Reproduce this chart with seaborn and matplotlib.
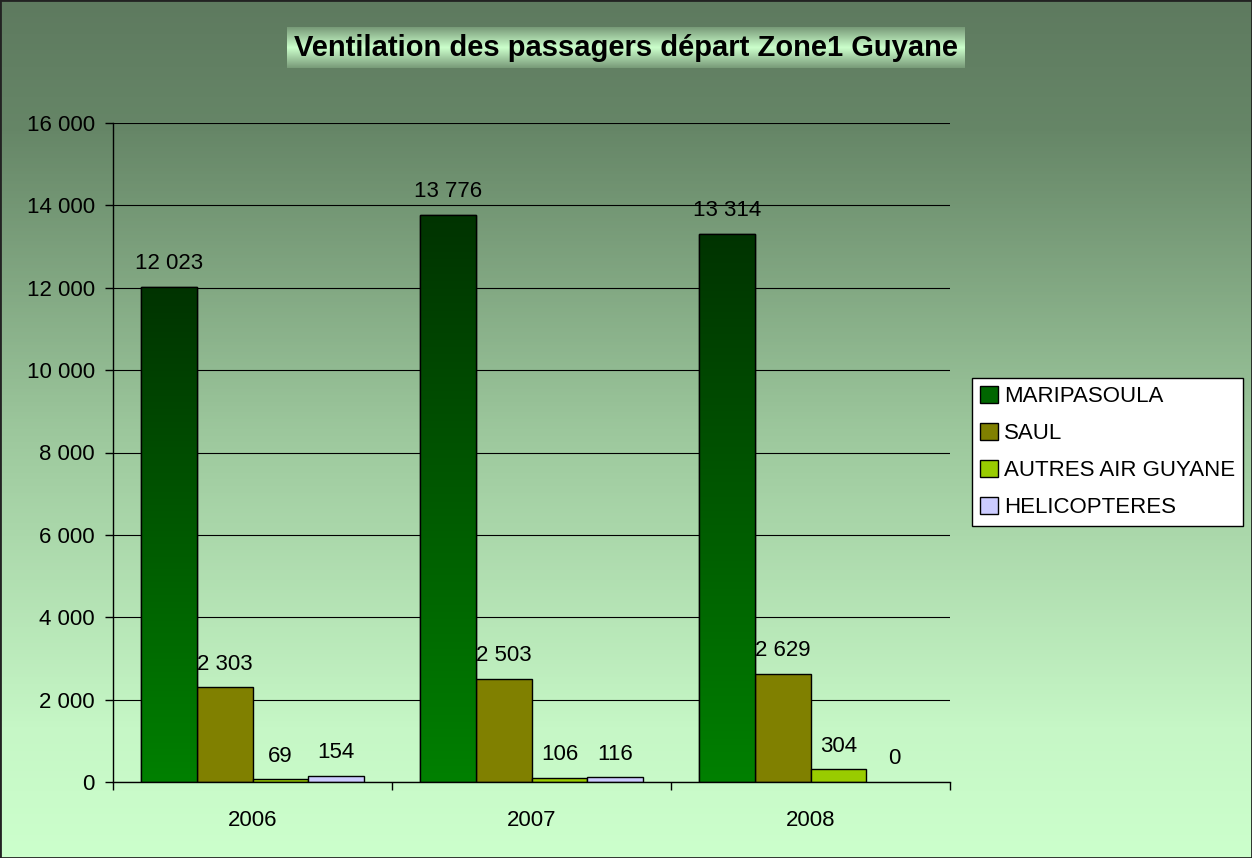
import numpy as np
import pandas as pd
import matplotlib.pyplot as plt
import seaborn as sns
from matplotlib.colors import LinearSegmentedColormap
from matplotlib.patches import Rectangle
from matplotlib.ticker import FuncFormatter, FixedLocator

# Passagers au départ de la Zone 1, par année et par destination
years = ["2006", "2007", "2008"]
destinations = ["MARIPASOULA", "SAUL", "AUTRES AIR GUYANE", "HELICOPTERES"]
maripasoula = [12023, 13776, 13314]
saul = [2303, 2503, 2629]
autres = [69, 106, 304]
helicopteres = [154, 116, 0]
colors = ["#006600", "#808000", "#99cc00", "#ccccff"]

df = pd.DataFrame({
    "annee": years * 4,
    "destination": np.repeat(destinations, len(years)),
    "passagers": maripasoula + saul + autres + helicopteres,
})


def fmt_fr(v):
    return f"{v:,.0f}".replace(",", " ")


sns.set_theme(style="white")
plt.rcParams["font.family"] = ["Liberation Sans", "DejaVu Sans"]
plt.rcParams["text.color"] = "black"
plt.rcParams["xtick.color"] = "black"
plt.rcParams["ytick.color"] = "black"

W, H = 1252, 858
fig = plt.figure(figsize=(W / 100, H / 100), dpi=100)

# fond en dégradé vertical
bg = fig.add_axes([0, 0, 1, 1], zorder=-10)
bg_cmap = LinearSegmentedColormap.from_list(
    "bg", [(0, "#5e7a5f"), (0.15, "#668667"), (0.5, "#9cc79c"), (0.85, "#c6f7c6"), (1, "#ccffcc")])
bg.imshow(np.linspace(0, 1, 256).reshape(-1, 1), cmap=bg_cmap, aspect="auto", extent=[0, 1, 0, 1])
bg.add_patch(Rectangle((0, 0), 1, 1, fill=False, edgecolor="#222222", lw=2, transform=bg.transAxes))
bg.set_axis_off()

# cadre du titre
tb = fig.add_axes([287 / W, 1 - 68 / H, 678 / W, 41 / H], zorder=-5)
tb_cmap = LinearSegmentedColormap.from_list("tb", ["#789a78", "#ccffcc", "#789a78"])
tb.imshow(np.linspace(0, 1, 256).reshape(-1, 1), cmap=tb_cmap, aspect="auto", extent=[0, 1, 0, 1])
tb.set_axis_off()
fig.text(626 / W, 1 - 48 / H, "Ventilation des passagers départ Zone1 Guyane",
         ha="center", va="center", fontsize=21, fontweight="bold", color="black")

ax = fig.add_axes([113 / W, 1 - 782 / H, (950 - 113) / W, (782 - 123) / H])
ax.patch.set_alpha(0)

sns.barplot(data=df, x="annee", y="passagers", hue="destination", palette=colors,
            width=0.8, saturation=1, edgecolor="black", linewidth=1, ax=ax)

# dégradé sur les barres MARIPASOULA
bar_cmap = LinearSegmentedColormap.from_list("bar", ["#003300", "#008000"])
for patch in ax.containers[0]:
    x0, w, h = patch.get_x(), patch.get_width(), patch.get_height()
    im = ax.imshow(np.linspace(0, 1, 256).reshape(-1, 1), cmap=bar_cmap, aspect="auto",
                   extent=[x0, x0 + w, 0, h], zorder=patch.get_zorder() + 0.1)
    im.set_clip_path(patch)
    ax.add_patch(Rectangle((x0, 0), w, h, fill=False, edgecolor="black", lw=1,
                           zorder=patch.get_zorder() + 0.2))

for cont in ax.containers:
    for b in cont:
        if b.get_height() == 0:
            b.set_linewidth(0)
    ax.bar_label(cont, labels=[fmt_fr(b.get_height()) for b in cont], padding=9,
                 fontsize=16, color="black")

ax.set_xlim(-0.5, 2.5)
ax.set_ylim(0, 16000)
ax.yaxis.set_major_locator(FixedLocator(range(0, 16001, 2000)))
ax.yaxis.set_major_formatter(FuncFormatter(lambda v, p: fmt_fr(v)))
ax.xaxis.set_minor_locator(FixedLocator([-0.5, 0.5, 1.5, 2.5]))
ax.yaxis.grid(True, color="black", lw=0.8)
ax.set_axisbelow(True)
ax.tick_params(axis="x", which="major", length=0, pad=20, labelsize=16, labelcolor="black")
ax.tick_params(axis="x", which="minor", length=6, width=1, color="black", direction="out", bottom=True)
ax.tick_params(axis="y", length=6, width=1, color="black", direction="out", left=True,
               pad=7, labelsize=16, labelcolor="black")
ax.set_xlabel("")
ax.set_ylabel("")
for side in ["top", "right"]:
    ax.spines[side].set_visible(False)
for side in ["left", "bottom"]:
    ax.spines[side].set_color("black")
    ax.spines[side].set_linewidth(1)

leg = ax.legend(loc="center left", bbox_to_anchor=(972 / W, 1 - 452 / H), bbox_transform=fig.transFigure,
                frameon=True, fancybox=False, edgecolor="black", framealpha=1, fontsize=16,
                handlelength=0.8, handleheight=0.8, handletextpad=0.3, borderpad=0.35,
                labelspacing=0.7, borderaxespad=0)
leg.get_frame().set_linewidth(1)
for hnd in leg.legend_handles:
    hnd.set_edgecolor("black")
for t in leg.get_texts():
    t.set_color("black")

fig.savefig("out.png", dpi=100)
